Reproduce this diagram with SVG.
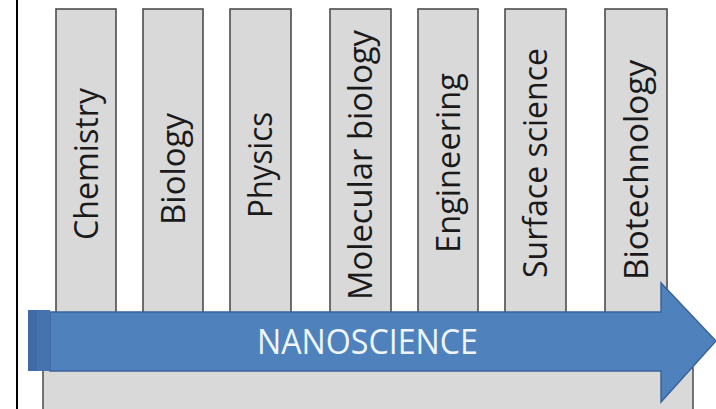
<svg xmlns="http://www.w3.org/2000/svg" width="716" height="409" viewBox="0 0 716 409">
<style>
.bar{fill:#d9d9d9;stroke:#4d4d4d;stroke-width:1.6}
.lbl{font-family:"Open Sans","Liberation Sans",sans-serif;font-size:32px;fill:#1a1a1a;text-anchor:middle}
.nano{font-family:"Open Sans","Liberation Sans",sans-serif;font-size:34px;fill:#eef6fb;text-anchor:middle}
</style>
<rect width="716" height="409" fill="#fff"/>
<line x1="17" y1="0" x2="17" y2="409" stroke="#000" stroke-width="2"/>
<g id="base"><rect x="43" y="368" width="650" height="50" fill="#d9d9d9" stroke="#555" stroke-width="1.6"/></g>
<g id="chemistry"><rect class="bar" x="56" y="9" width="60" height="305"/><text class="lbl" transform="translate(97.5,164) rotate(-90)" textLength="152" lengthAdjust="spacingAndGlyphs">Chemistry</text></g>
<g id="biology"><rect class="bar" x="143" y="9" width="60" height="305"/><text class="lbl" transform="translate(184.5,169) rotate(-90)" textLength="112" lengthAdjust="spacingAndGlyphs">Biology</text></g>
<g id="physics"><rect class="bar" x="230" y="9" width="61" height="305"/><text class="lbl" transform="translate(272,165) rotate(-90)" textLength="106" lengthAdjust="spacingAndGlyphs">Physics</text></g>
<g id="molecular-biology"><rect class="bar" x="330" y="9" width="61" height="305"/><text class="lbl" transform="translate(372,165) rotate(-90)" textLength="270" lengthAdjust="spacingAndGlyphs">Molecular biology</text></g>
<g id="engineering"><rect class="bar" x="418" y="9" width="60" height="305"/><text class="lbl" transform="translate(459.5,163) rotate(-90)" textLength="180" lengthAdjust="spacingAndGlyphs">Engineering</text></g>
<g id="surface-science"><rect class="bar" x="505" y="9" width="61" height="305"/><text class="lbl" transform="translate(547,163) rotate(-90)" textLength="230" lengthAdjust="spacingAndGlyphs">Surface science</text></g>
<g id="biotechnology"><rect class="bar" x="605" y="9" width="62" height="305"/><text class="lbl" transform="translate(647.5,170) rotate(-90)" textLength="220" lengthAdjust="spacingAndGlyphs">Biotechnology</text></g>
<g id="nanoscience">
<polygon points="50,312 661,312 661,283 716,341 661,402 661,371 50,371" fill="#4f81bd" stroke="#3a649a" stroke-width="1.5"/>
<rect x="28" y="310" width="22" height="61" fill="#3f6aa6"/>
<rect x="37" y="310" width="13" height="61" fill="#4573ad"/>
<text class="nano" x="367.5" y="354" textLength="221" lengthAdjust="spacingAndGlyphs">NANOSCIENCE</text>
</g>
</svg>
